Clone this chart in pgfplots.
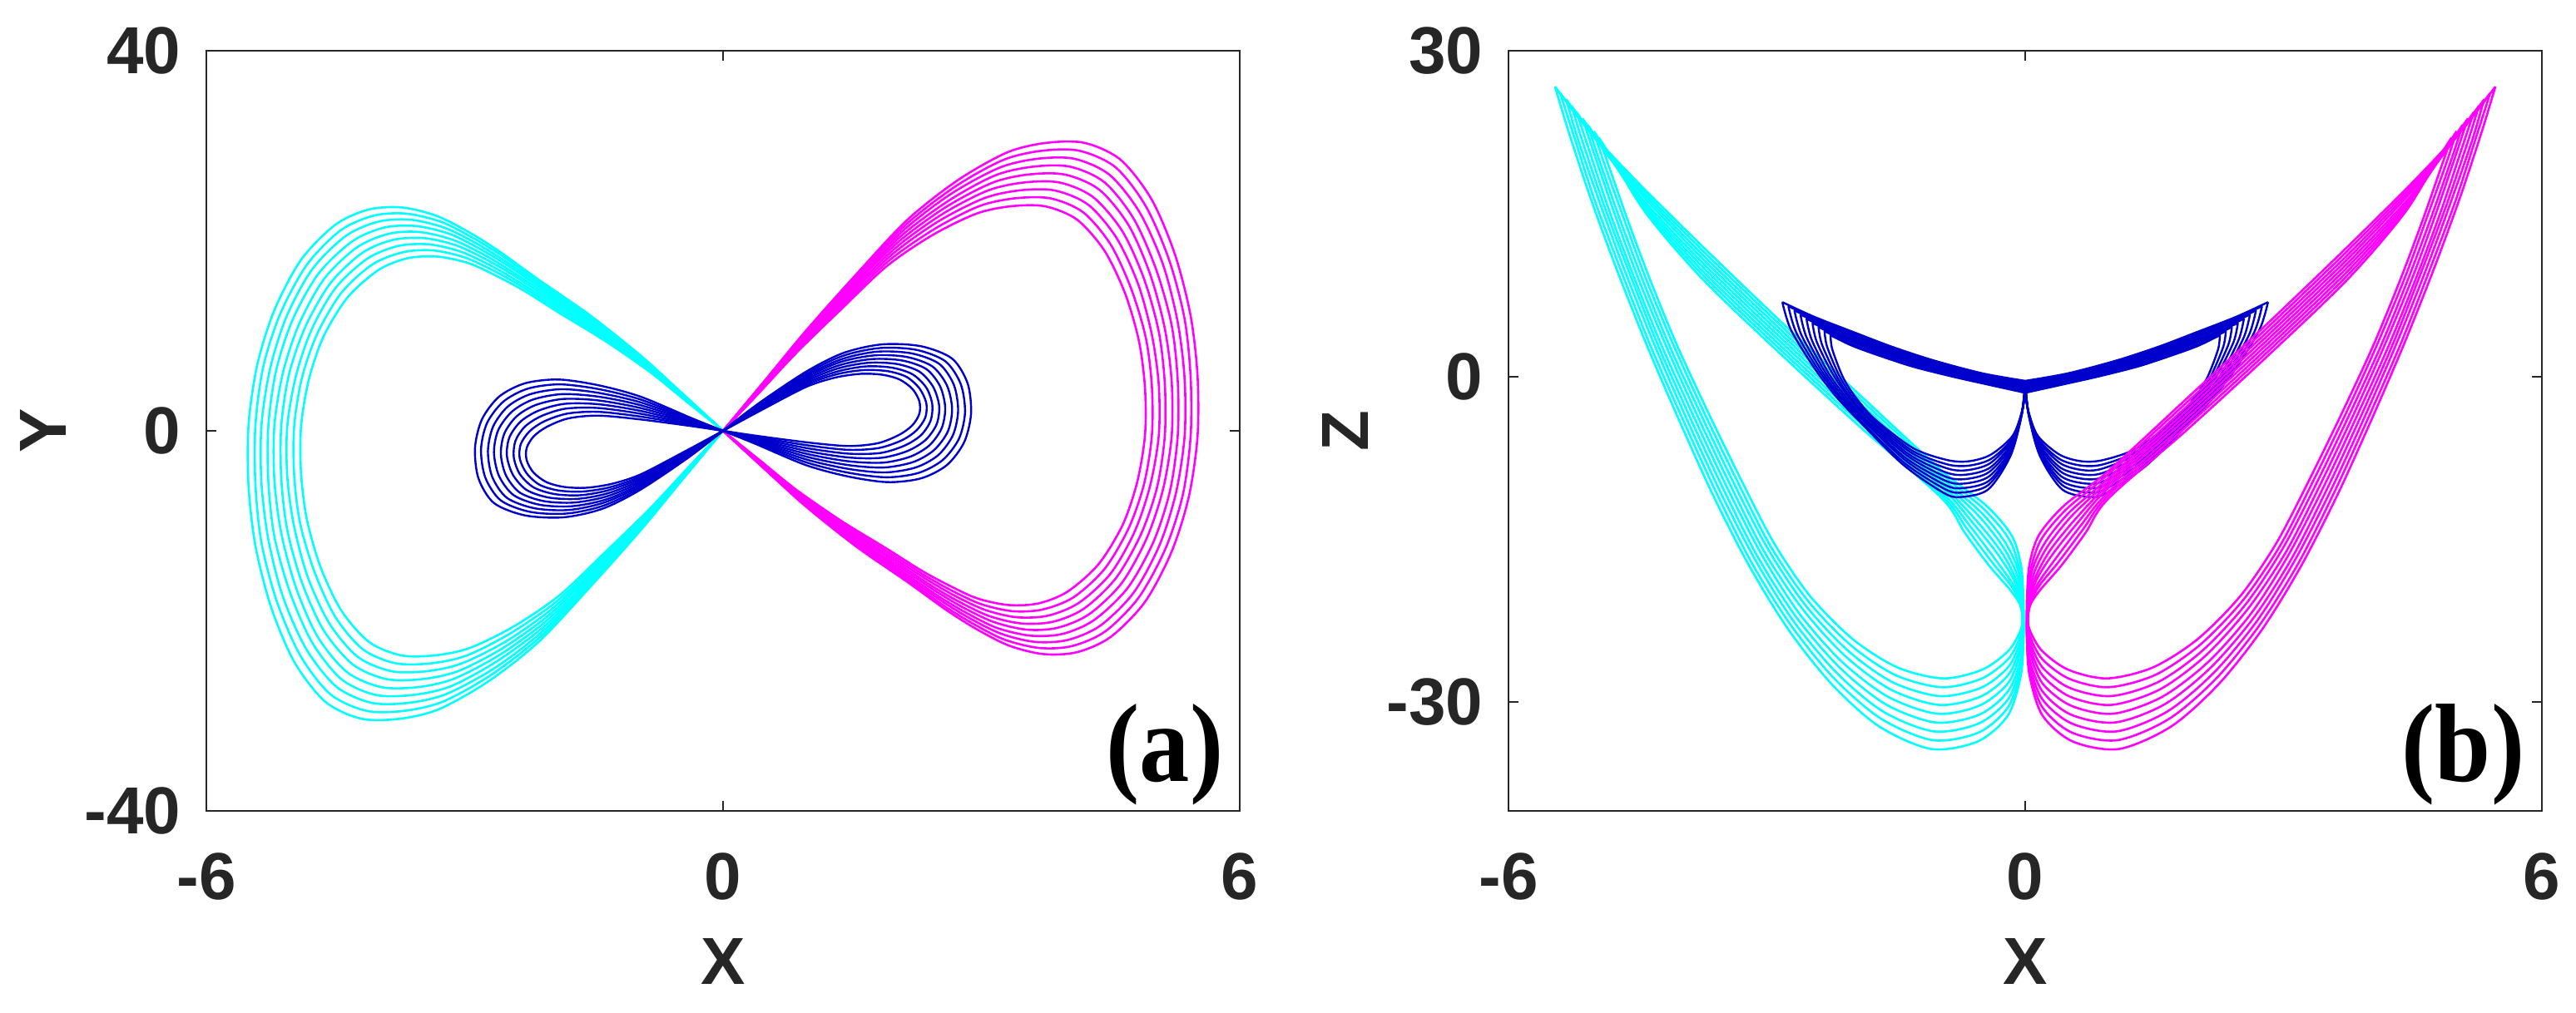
\documentclass[border=0pt]{standalone}
\usepackage{graphicx}
\usepackage{fontspec}
\setmainfont{Liberation Sans}
\newfontfamily\labfont{Liberation Serif}
\usepackage{pgfplots}
\pgfplotsset{compat=1.18}
\definecolor{cyc}{RGB}{0,255,255}
\definecolor{mgc}{RGB}{255,0,255}
\definecolor{blc}{RGB}{0,0,205}
\definecolor{axc}{RGB}{38,38,38}
\pgfplotsset{
 cy/.style={draw=cyc, line width=0.65pt, smooth, mark=none},
 mg/.style={draw=mgc, line width=0.65pt, smooth, mark=none},
 bl/.style={draw=blc, line width=0.6pt, smooth, mark=none},
 myax/.style={
  scale only axis, width=310.5pt, height=228.5pt, anchor=south west,
  xmin=-6, xmax=6, xtick={-6,0,6}, xticklabels={-6,0,6},
  axis line style={draw=axc, line width=0.5pt},
  every tick/.style={draw=axc, line width=0.5pt},
  major tick length=3pt, tick align=inside,
  ticklabel style={font=\fontsize{20}{20}\selectfont\bfseries, text=axc},
  xticklabel style={inner sep=0pt, yshift=-12.5pt},
  yticklabel style={inner sep=0pt, xshift=-7.5pt},
  xlabel={X},
  xlabel style={at={(axis description cs:0.5,-0.1674)}, anchor=north, inner sep=0pt, font=\fontsize{20}{20}\selectfont\bfseries, text=axc},
  ylabel style={at={(axis description cs:-0.158,0.5)}, anchor=center, inner sep=0pt, font=\fontsize{20}{20}\selectfont\bfseries, text=axc},
  clip=true,
 }
}
\begin{document}
\begin{tikzpicture}
\useasboundingbox (0,0) rectangle (774pt,304.5pt);
% ================= panel (a) =================
\begin{axis}[myax, at={(62pt,60.75pt)}, ymin=-40, ymax=40, ytick={-40,0,40}, yticklabels={-40,0,40}, ylabel={Y}]
% ---- cyan lobe ----
\addplot[cy] coordinates {(0,0) (-0.48,4.0) (-0.96,7.95) (-1.55,12.2) (-2.14,15.9) (-2.60,18.9) (-2.95,20.9) (-3.32,22.6) (-3.72,23.5) (-4.11,23.3) (-4.50,21.7) (-4.90,18.0) (-5.21,12.7) (-5.41,6.9) (-5.51,0.6) (-5.51,-5.8) (-5.43,-12.1) (-5.25,-18.5) (-4.98,-24.3) (-4.62,-28.5) (-4.20,-30.3) (-3.75,-30.3) (-3.30,-29.3) (-2.73,-26.4) (-2.14,-22.2) (-1.55,-16.5) (-0.96,-10.5) (-0.45,-4.9) (0,0)};
\addplot[cy] coordinates {(0,0) (-0.47,3.89) (-0.95,7.73) (-1.53,11.86) (-2.11,15.46) (-2.56,18.38) (-2.91,20.33) (-3.27,21.98) (-3.67,22.85) (-4.05,22.66) (-4.44,21.10) (-4.83,17.51) (-5.14,12.35) (-5.34,6.71) (-5.43,0.58) (-5.43,-5.64) (-5.36,-11.77) (-5.18,-17.99) (-4.91,-23.63) (-4.56,-27.72) (-4.14,-29.47) (-3.70,-29.47) (-3.25,-28.49) (-2.69,-25.67) (-2.11,-21.59) (-1.53,-16.05) (-0.95,-10.21) (-0.44,-4.77) (0,0)};
\addplot[cy] coordinates {(0,0) (-0.47,3.78) (-0.93,7.51) (-1.51,11.53) (-2.08,15.03) (-2.53,17.86) (-2.87,19.75) (-3.23,21.36) (-3.62,22.21) (-4.00,22.02) (-4.38,20.51) (-4.77,17.01) (-5.07,12.00) (-5.26,6.52) (-5.36,0.57) (-5.36,-5.48) (-5.28,-11.43) (-5.11,-17.48) (-4.84,-22.96) (-4.49,-26.93) (-4.08,-28.63) (-3.65,-28.63) (-3.21,-27.69) (-2.65,-24.95) (-2.08,-20.98) (-1.51,-15.59) (-0.93,-9.92) (-0.44,-4.63) (0,0)};
\addplot[cy] coordinates {(0,0) (-0.46,3.67) (-0.92,7.29) (-1.49,11.19) (-2.05,14.59) (-2.49,17.34) (-2.83,19.18) (-3.18,20.74) (-3.57,21.56) (-3.94,21.38) (-4.31,19.91) (-4.70,16.52) (-5.00,11.65) (-5.19,6.33) (-5.28,0.55) (-5.28,-5.32) (-5.21,-11.10) (-5.03,-16.97) (-4.77,-22.30) (-4.43,-26.15) (-4.03,-27.80) (-3.60,-27.80) (-3.16,-26.88) (-2.62,-24.22) (-2.05,-20.37) (-1.49,-15.14) (-0.92,-9.63) (-0.43,-4.50) (0,0)};
\addplot[cy] coordinates {(0,0) (-0.45,3.56) (-0.91,7.08) (-1.46,10.86) (-2.02,14.15) (-2.46,16.82) (-2.79,18.60) (-3.14,20.11) (-3.52,20.92) (-3.88,20.74) (-4.25,19.31) (-4.63,16.02) (-4.92,11.30) (-5.11,6.14) (-5.21,0.53) (-5.21,-5.16) (-5.13,-10.77) (-4.96,-16.47) (-4.71,-21.63) (-4.37,-25.37) (-3.97,-26.97) (-3.54,-26.97) (-3.12,-26.08) (-2.58,-23.50) (-2.02,-19.76) (-1.46,-14.69) (-0.91,-9.35) (-0.43,-4.36) (0,0)};
\addplot[cy] coordinates {(0,0) (-0.45,3.45) (-0.89,6.86) (-1.44,10.52) (-1.99,13.71) (-2.42,16.30) (-2.75,18.03) (-3.09,19.49) (-3.46,20.27) (-3.83,20.10) (-4.19,18.72) (-4.56,15.53) (-4.85,10.95) (-5.04,5.95) (-5.13,0.52) (-5.13,-5.00) (-5.06,-10.44) (-4.89,-15.96) (-4.64,-20.96) (-4.30,-24.58) (-3.91,-26.13) (-3.49,-26.13) (-3.07,-25.27) (-2.54,-22.77) (-1.99,-19.15) (-1.44,-14.23) (-0.89,-9.06) (-0.42,-4.23) (0,0)};
\addplot[cy] coordinates {(0,0) (-0.44,3.34) (-0.88,6.64) (-1.42,10.19) (-1.96,13.28) (-2.39,15.78) (-2.71,17.45) (-3.05,18.87) (-3.41,19.62) (-3.77,19.46) (-4.13,18.12) (-4.50,15.03) (-4.78,10.60) (-4.96,5.76) (-5.06,0.50) (-5.06,-4.84) (-4.98,-10.10) (-4.82,-15.45) (-4.57,-20.29) (-4.24,-23.80) (-3.85,-25.30) (-3.44,-25.30) (-3.03,-24.47) (-2.50,-22.04) (-1.96,-18.54) (-1.42,-13.78) (-0.88,-8.77) (-0.41,-4.09) (0,0)};
\addplot[cy] coordinates {(0,0) (-0.43,3.23) (-0.87,6.42) (-1.40,9.85) (-1.93,12.84) (-2.35,15.26) (-2.67,16.88) (-3.00,18.25) (-3.36,18.98) (-3.71,18.81) (-4.07,17.52) (-4.43,14.54) (-4.71,10.26) (-4.89,5.57) (-4.98,0.48) (-4.98,-4.68) (-4.91,-9.77) (-4.74,-14.94) (-4.50,-19.62) (-4.18,-23.01) (-3.80,-24.47) (-3.39,-24.47) (-2.98,-23.66) (-2.47,-21.32) (-1.93,-17.93) (-1.40,-13.32) (-0.87,-8.48) (-0.41,-3.96) (0,0)};
\addplot[cy] coordinates {(0,0) (-0.43,3.12) (-0.85,6.20) (-1.38,9.52) (-1.90,12.40) (-2.31,14.74) (-2.63,16.30) (-2.95,17.63) (-3.31,18.33) (-3.66,18.17) (-4.00,16.93) (-4.36,14.04) (-4.64,9.91) (-4.81,5.38) (-4.90,0.47) (-4.90,-4.52) (-4.83,-9.44) (-4.67,-14.43) (-4.43,-18.95) (-4.11,-22.23) (-3.74,-23.63) (-3.34,-23.63) (-2.94,-22.85) (-2.43,-20.59) (-1.90,-17.32) (-1.38,-12.87) (-0.85,-8.19) (-0.40,-3.82) (0,0)};
% ---- magenta lobe ----
\addplot[mg] coordinates {(0,0) (0.48,-4.0) (0.96,-7.95) (1.55,-12.2) (2.14,-15.9) (2.60,-18.9) (2.95,-20.9) (3.32,-22.6) (3.72,-23.5) (4.11,-23.3) (4.50,-21.7) (4.90,-18.0) (5.21,-12.7) (5.41,-6.9) (5.51,-0.6) (5.51,5.8) (5.43,12.1) (5.25,18.5) (4.98,24.3) (4.62,28.5) (4.20,30.3) (3.75,30.3) (3.30,29.3) (2.73,26.4) (2.14,22.2) (1.55,16.5) (0.96,10.5) (0.45,4.9) (0,0)};
\addplot[mg] coordinates {(0,0) (0.47,-3.89) (0.95,-7.73) (1.53,-11.86) (2.11,-15.46) (2.56,-18.38) (2.91,-20.33) (3.27,-21.98) (3.67,-22.85) (4.05,-22.66) (4.44,-21.10) (4.83,-17.51) (5.14,-12.35) (5.34,-6.71) (5.43,-0.58) (5.43,5.64) (5.36,11.77) (5.18,17.99) (4.91,23.63) (4.56,27.72) (4.14,29.47) (3.70,29.47) (3.25,28.49) (2.69,25.67) (2.11,21.59) (1.53,16.05) (0.95,10.21) (0.44,4.77) (0,0)};
\addplot[mg] coordinates {(0,0) (0.47,-3.78) (0.93,-7.51) (1.51,-11.53) (2.08,-15.03) (2.53,-17.86) (2.87,-19.75) (3.23,-21.36) (3.62,-22.21) (4.00,-22.02) (4.38,-20.51) (4.77,-17.01) (5.07,-12.00) (5.26,-6.52) (5.36,-0.57) (5.36,5.48) (5.28,11.43) (5.11,17.48) (4.84,22.96) (4.49,26.93) (4.08,28.63) (3.65,28.63) (3.21,27.69) (2.65,24.95) (2.08,20.98) (1.51,15.59) (0.93,9.92) (0.44,4.63) (0,0)};
\addplot[mg] coordinates {(0,0) (0.46,-3.67) (0.92,-7.29) (1.49,-11.19) (2.05,-14.59) (2.49,-17.34) (2.83,-19.18) (3.18,-20.74) (3.57,-21.56) (3.94,-21.38) (4.31,-19.91) (4.70,-16.52) (5.00,-11.65) (5.19,-6.33) (5.28,-0.55) (5.28,5.32) (5.21,11.10) (5.03,16.97) (4.77,22.30) (4.43,26.15) (4.03,27.80) (3.60,27.80) (3.16,26.88) (2.62,24.22) (2.05,20.37) (1.49,15.14) (0.92,9.63) (0.43,4.50) (0,0)};
\addplot[mg] coordinates {(0,0) (0.45,-3.56) (0.91,-7.08) (1.46,-10.86) (2.02,-14.15) (2.46,-16.82) (2.79,-18.60) (3.14,-20.11) (3.52,-20.92) (3.88,-20.74) (4.25,-19.31) (4.63,-16.02) (4.92,-11.30) (5.11,-6.14) (5.21,-0.53) (5.21,5.16) (5.13,10.77) (4.96,16.47) (4.71,21.63) (4.37,25.37) (3.97,26.97) (3.54,26.97) (3.12,26.08) (2.58,23.50) (2.02,19.76) (1.46,14.69) (0.91,9.35) (0.43,4.36) (0,0)};
\addplot[mg] coordinates {(0,0) (0.45,-3.45) (0.89,-6.86) (1.44,-10.52) (1.99,-13.71) (2.42,-16.30) (2.75,-18.03) (3.09,-19.49) (3.46,-20.27) (3.83,-20.10) (4.19,-18.72) (4.56,-15.53) (4.85,-10.95) (5.04,-5.95) (5.13,-0.52) (5.13,5.00) (5.06,10.44) (4.89,15.96) (4.64,20.96) (4.30,24.58) (3.91,26.13) (3.49,26.13) (3.07,25.27) (2.54,22.77) (1.99,19.15) (1.44,14.23) (0.89,9.06) (0.42,4.23) (0,0)};
\addplot[mg] coordinates {(0,0) (0.44,-3.34) (0.88,-6.64) (1.42,-10.19) (1.96,-13.28) (2.39,-15.78) (2.71,-17.45) (3.05,-18.87) (3.41,-19.62) (3.77,-19.46) (4.13,-18.12) (4.50,-15.03) (4.78,-10.60) (4.96,-5.76) (5.06,-0.50) (5.06,4.84) (4.98,10.10) (4.82,15.45) (4.57,20.29) (4.24,23.80) (3.85,25.30) (3.44,25.30) (3.03,24.47) (2.50,22.04) (1.96,18.54) (1.42,13.78) (0.88,8.77) (0.41,4.09) (0,0)};
\addplot[mg] coordinates {(0,0) (0.43,-3.23) (0.87,-6.42) (1.40,-9.85) (1.93,-12.84) (2.35,-15.26) (2.67,-16.88) (3.00,-18.25) (3.36,-18.98) (3.71,-18.81) (4.07,-17.52) (4.43,-14.54) (4.71,-10.26) (4.89,-5.57) (4.98,-0.48) (4.98,4.68) (4.91,9.77) (4.74,14.94) (4.50,19.62) (4.18,23.01) (3.80,24.47) (3.39,24.47) (2.98,23.66) (2.47,21.32) (1.93,17.93) (1.40,13.32) (0.87,8.48) (0.41,3.96) (0,0)};
\addplot[mg] coordinates {(0,0) (0.43,-3.12) (0.85,-6.20) (1.38,-9.52) (1.90,-12.40) (2.31,-14.74) (2.63,-16.30) (2.95,-17.63) (3.31,-18.33) (3.66,-18.17) (4.00,-16.93) (4.36,-14.04) (4.64,-9.91) (4.81,-5.38) (4.90,-0.47) (4.90,4.52) (4.83,9.44) (4.67,14.43) (4.43,18.95) (4.11,22.23) (3.74,23.63) (3.34,23.63) (2.94,22.85) (2.43,20.59) (1.90,17.32) (1.38,12.87) (0.85,8.19) (0.40,3.82) (0,0)};
% ---- blue left lobe ----
\addplot[bl] coordinates {(0,0) (-0.37,1.35) (-0.96,3.6) (-1.45,4.8) (-1.91,5.4) (-2.30,5.0) (-2.60,3.6) (-2.80,1.2) (-2.88,-1.8) (-2.84,-5.0) (-2.66,-7.6) (-2.30,-8.9) (-1.85,-9.1) (-1.40,-8.2) (-0.96,-6.2) (-0.40,-2.8) (0,0)};
\addplot[bl] coordinates {(0,0) (-0.37,1.24) (-0.96,3.3) (-1.45,4.4) (-1.90,4.89) (-2.27,4.43) (-2.55,3.08) (-2.74,0.83) (-2.81,-1.96) (-2.76,-4.93) (-2.58,-7.33) (-2.24,-8.53) (-1.82,-8.71) (-1.39,-7.88) (-0.96,-6.0) (-0.41,-2.73) (0,0)};
\addplot[bl] coordinates {(0,0) (-0.37,1.14) (-0.96,3.0) (-1.45,4.0) (-1.88,4.38) (-2.24,3.85) (-2.50,2.55) (-2.67,0.45) (-2.73,-2.13) (-2.68,-4.85) (-2.51,-7.05) (-2.19,-8.15) (-1.79,-8.33) (-1.38,-7.55) (-0.96,-5.8) (-0.41,-2.65) (0,0)};
\addplot[bl] coordinates {(0,0) (-0.37,1.03) (-0.96,2.7) (-1.45,3.6) (-1.87,3.86) (-2.21,3.28) (-2.45,2.03) (-2.61,0.08) (-2.66,-2.29) (-2.60,-4.78) (-2.43,-6.78) (-2.13,-7.78) (-1.76,-7.94) (-1.36,-7.23) (-0.96,-5.6) (-0.42,-2.58) (0,0)};
\addplot[bl] coordinates {(0,0) (-0.37,0.93) (-0.96,2.4) (-1.45,3.2) (-1.86,3.35) (-2.18,2.70) (-2.40,1.5) (-2.54,-0.3) (-2.58,-2.45) (-2.52,-4.7) (-2.36,-6.5) (-2.08,-7.4) (-1.73,-7.55) (-1.35,-6.9) (-0.96,-5.4) (-0.43,-2.5) (0,0)};
\addplot[bl] coordinates {(0,0) (-0.37,0.82) (-0.96,2.1) (-1.45,2.8) (-1.84,2.84) (-2.14,2.13) (-2.35,0.98) (-2.48,-0.68) (-2.51,-2.61) (-2.44,-4.63) (-2.28,-6.23) (-2.02,-7.03) (-1.69,-7.16) (-1.34,-6.58) (-0.96,-5.2) (-0.43,-2.43) (0,0)};
\addplot[bl] coordinates {(0,0) (-0.37,0.71) (-0.96,1.8) (-1.45,2.4) (-1.83,2.33) (-2.11,1.55) (-2.30,0.45) (-2.41,-1.05) (-2.43,-2.78) (-2.36,-4.55) (-2.20,-5.95) (-1.96,-6.65) (-1.66,-6.78) (-1.33,-6.25) (-0.96,-5.0) (-0.44,-2.35) (0,0)};
\addplot[bl] coordinates {(0,0) (-0.37,0.61) (-0.96,1.5) (-1.45,2.0) (-1.81,1.81) (-2.08,0.98) (-2.25,-0.08) (-2.35,-1.43) (-2.36,-2.94) (-2.28,-4.48) (-2.13,-5.68) (-1.91,-6.28) (-1.63,-6.39) (-1.31,-5.93) (-0.96,-4.8) (-0.44,-2.28) (0,0)};
\addplot[bl] coordinates {(0,0) (-0.37,0.50) (-0.96,1.2) (-1.45,1.6) (-1.80,1.3) (-2.05,0.4) (-2.20,-0.6) (-2.28,-1.8) (-2.28,-3.1) (-2.20,-4.4) (-2.05,-5.4) (-1.85,-5.9) (-1.60,-6.0) (-1.30,-5.6) (-0.96,-4.6) (-0.45,-2.2) (0,0)};
% ---- blue right lobe ----
\addplot[bl] coordinates {(0,0) (0.37,-1.35) (0.96,-3.6) (1.45,-4.8) (1.91,-5.4) (2.30,-5.0) (2.60,-3.6) (2.80,-1.2) (2.88,1.8) (2.84,5.0) (2.66,7.6) (2.30,8.9) (1.85,9.1) (1.40,8.2) (0.96,6.2) (0.40,2.8) (0,0)};
\addplot[bl] coordinates {(0,0) (0.37,-1.24) (0.96,-3.3) (1.45,-4.4) (1.90,-4.89) (2.27,-4.43) (2.55,-3.08) (2.74,-0.83) (2.81,1.96) (2.76,4.93) (2.58,7.33) (2.24,8.53) (1.82,8.71) (1.39,7.88) (0.96,6.0) (0.41,2.73) (0,0)};
\addplot[bl] coordinates {(0,0) (0.37,-1.14) (0.96,-3.0) (1.45,-4.0) (1.88,-4.38) (2.24,-3.85) (2.50,-2.55) (2.67,-0.45) (2.73,2.13) (2.68,4.85) (2.51,7.05) (2.19,8.15) (1.79,8.33) (1.38,7.55) (0.96,5.8) (0.41,2.65) (0,0)};
\addplot[bl] coordinates {(0,0) (0.37,-1.03) (0.96,-2.7) (1.45,-3.6) (1.87,-3.86) (2.21,-3.28) (2.45,-2.03) (2.61,-0.08) (2.66,2.29) (2.60,4.78) (2.43,6.78) (2.13,7.78) (1.76,7.94) (1.36,7.23) (0.96,5.6) (0.42,2.58) (0,0)};
\addplot[bl] coordinates {(0,0) (0.37,-0.93) (0.96,-2.4) (1.45,-3.2) (1.86,-3.35) (2.18,-2.70) (2.40,-1.5) (2.54,0.3) (2.58,2.45) (2.52,4.7) (2.36,6.5) (2.08,7.4) (1.73,7.55) (1.35,6.9) (0.96,5.4) (0.43,2.5) (0,0)};
\addplot[bl] coordinates {(0,0) (0.37,-0.82) (0.96,-2.1) (1.45,-2.8) (1.84,-2.84) (2.14,-2.13) (2.35,-0.98) (2.48,0.68) (2.51,2.61) (2.44,4.63) (2.28,6.23) (2.02,7.03) (1.69,7.16) (1.34,6.58) (0.96,5.2) (0.43,2.43) (0,0)};
\addplot[bl] coordinates {(0,0) (0.37,-0.71) (0.96,-1.8) (1.45,-2.4) (1.83,-2.33) (2.11,-1.55) (2.30,-0.45) (2.41,1.05) (2.43,2.78) (2.36,4.55) (2.20,5.95) (1.96,6.65) (1.66,6.78) (1.33,6.25) (0.96,5.0) (0.44,2.35) (0,0)};
\addplot[bl] coordinates {(0,0) (0.37,-0.61) (0.96,-1.5) (1.45,-2.0) (1.81,-1.81) (2.08,-0.98) (2.25,0.08) (2.35,1.43) (2.36,2.94) (2.28,4.48) (2.13,5.68) (1.91,6.28) (1.63,6.39) (1.31,5.93) (0.96,4.8) (0.44,2.28) (0,0)};
\addplot[bl] coordinates {(0,0) (0.37,-0.50) (0.96,-1.2) (1.45,-1.6) (1.80,-1.3) (2.05,-0.4) (2.20,0.6) (2.28,1.8) (2.28,3.1) (2.20,4.4) (2.05,5.4) (1.85,5.9) (1.60,6.0) (1.30,5.6) (0.96,4.6) (0.45,2.2) (0,0)};
\node[anchor=south east, inner sep=0pt, xshift=-4.75pt, yshift=1.5pt] at (rel axis cs:1,0) {\scalebox{0.9}[1]{\labfont\bfseries\fontsize{33.5}{33.5}\selectfont (a)}};
\end{axis}
% ================= panel (b) =================
\begin{axis}[myax, at={(453.25pt,60.75pt)}, ymin=-40, ymax=30, ytick={-30,0,30}, yticklabels={-30,0,30}, ylabel={Z}]
% ---- cyan ----
\addplot[cy] coordinates {(-5.46,26.7) (-5.30,22.5) (-5.05,16.5) (-4.75,10.0) (-4.40,3.0) (-4.02,-4.0) (-3.62,-11.0) (-3.20,-17.5) (-2.75,-23.3) (-2.25,-28.3) (-1.70,-32.2) (-1.09,-34.3) (-0.55,-33.6) (-0.20,-31.2) (-0.05,-27.5) (-0.02,-24.0) (-0.02,-20.5) (-0.05,-17.3) (-0.16,-14.6) (-0.45,-11.9) (-0.95,-8.8) (-1.88,-2.0) (-2.83,5.0) (-3.75,12.0) (-4.55,18.3) (-5.10,23.0) (-5.46,26.7)};
\addplot[cy] coordinates {(-5.40,26.11) (-5.24,22.13) (-5.00,16.25) (-4.70,9.88) (-4.36,3.0) (-3.98,-3.88) (-3.58,-10.81) (-3.17,-17.23) (-2.72,-22.91) (-2.22,-27.79) (-1.67,-31.53) (-1.07,-33.49) (-0.54,-32.78) (-0.20,-30.46) (-0.05,-27.0) (-0.02,-23.79) (-0.03,-20.56) (-0.07,-17.59) (-0.19,-14.95) (-0.48,-12.21) (-0.95,-9.1) (-1.88,-2.36) (-2.83,4.63) (-3.75,11.63) (-4.53,17.89) (-5.06,22.56) (-5.40,26.11)};
\addplot[cy] coordinates {(-5.33,25.53) (-5.19,21.75) (-4.94,16.0) (-4.65,9.75) (-4.31,3.0) (-3.94,-3.75) (-3.54,-10.63) (-3.13,-16.95) (-2.69,-22.53) (-2.19,-27.28) (-1.65,-30.85) (-1.06,-32.68) (-0.54,-31.95) (-0.20,-29.73) (-0.05,-26.5) (-0.02,-23.58) (-0.03,-20.63) (-0.08,-17.88) (-0.23,-15.3) (-0.51,-12.53) (-0.96,-9.4) (-1.88,-2.73) (-2.83,4.25) (-3.75,11.25) (-4.51,17.48) (-5.01,22.13) (-5.33,25.53)};
\addplot[cy] coordinates {(-5.27,24.94) (-5.13,21.38) (-4.89,15.75) (-4.60,9.63) (-4.27,3.0) (-3.90,-3.63) (-3.50,-10.44) (-3.10,-16.68) (-2.66,-22.14) (-2.16,-26.76) (-1.62,-30.18) (-1.04,-31.86) (-0.53,-31.13) (-0.20,-28.99) (-0.05,-26.0) (-0.02,-23.36) (-0.04,-20.69) (-0.10,-18.16) (-0.26,-15.65) (-0.54,-12.84) (-0.96,-9.7) (-1.88,-3.09) (-2.83,3.88) (-3.75,10.88) (-4.49,17.06) (-4.97,21.69) (-5.27,24.94)};
\addplot[cy] coordinates {(-5.21,24.35) (-5.07,21.0) (-4.84,15.5) (-4.56,9.5) (-4.23,3.0) (-3.86,-3.5) (-3.46,-10.25) (-3.06,-16.4) (-2.63,-21.75) (-2.13,-26.25) (-1.59,-29.5) (-1.02,-31.05) (-0.53,-30.3) (-0.20,-28.25) (-0.06,-25.5) (-0.03,-23.15) (-0.04,-20.75) (-0.12,-18.45) (-0.29,-16.0) (-0.58,-13.15) (-0.96,-10.0) (-1.88,-3.45) (-2.83,3.5) (-3.75,10.5) (-4.48,16.65) (-4.93,21.25) (-5.21,24.35)};
\addplot[cy] coordinates {(-5.14,23.76) (-5.01,20.63) (-4.78,15.25) (-4.51,9.38) (-4.18,3.0) (-3.82,-3.38) (-3.42,-10.06) (-3.03,-16.13) (-2.59,-21.36) (-2.09,-25.74) (-1.56,-28.83) (-1.00,-30.24) (-0.52,-29.48) (-0.20,-27.51) (-0.06,-25.0) (-0.03,-22.94) (-0.05,-20.81) (-0.13,-18.74) (-0.32,-16.35) (-0.61,-13.46) (-0.96,-10.3) (-1.88,-3.81) (-2.83,3.13) (-3.75,10.13) (-4.46,16.24) (-4.88,20.81) (-5.14,23.76)};
\addplot[cy] coordinates {(-5.08,23.18) (-4.96,20.25) (-4.73,15.0) (-4.46,9.25) (-4.14,3.0) (-3.78,-3.25) (-3.38,-9.88) (-2.99,-15.85) (-2.56,-20.98) (-2.06,-25.23) (-1.54,-28.15) (-0.99,-29.43) (-0.51,-28.65) (-0.20,-26.78) (-0.06,-24.5) (-0.03,-22.73) (-0.05,-20.88) (-0.15,-19.03) (-0.36,-16.7) (-0.64,-13.78) (-0.97,-10.6) (-1.88,-4.18) (-2.83,2.75) (-3.75,9.75) (-4.44,15.83) (-4.84,20.38) (-5.08,23.18)};
\addplot[cy] coordinates {(-5.01,22.59) (-4.90,19.88) (-4.67,14.75) (-4.41,9.13) (-4.09,3.0) (-3.74,-3.13) (-3.34,-9.69) (-2.96,-15.58) (-2.53,-20.59) (-2.03,-24.71) (-1.51,-27.48) (-0.97,-28.61) (-0.51,-27.83) (-0.20,-26.04) (-0.06,-24.0) (-0.03,-22.51) (-0.06,-20.94) (-0.16,-19.31) (-0.39,-17.05) (-0.67,-14.09) (-0.97,-10.9) (-1.88,-4.54) (-2.83,2.38) (-3.75,9.38) (-4.42,15.41) (-4.79,19.94) (-5.01,22.59)};
\addplot[cy] coordinates {(-4.95,22.0) (-4.84,19.5) (-4.62,14.5) (-4.36,9.0) (-4.05,3.0) (-3.70,-3.0) (-3.30,-9.5) (-2.92,-15.3) (-2.50,-20.2) (-2.00,-24.2) (-1.48,-26.8) (-0.95,-27.8) (-0.50,-27.0) (-0.20,-25.3) (-0.06,-23.5) (-0.03,-22.3) (-0.06,-21.0) (-0.18,-19.6) (-0.42,-17.4) (-0.70,-14.4) (-0.97,-11.2) (-1.88,-4.9) (-2.83,2.0) (-3.75,9.0) (-4.40,15.0) (-4.75,19.5) (-4.95,22.0)};
% ---- blue left (tip -> centre, centre -> tip) ----
\addplot[bl] coordinates {(-2.82,6.85) (-2.72,4.3) (-2.45,0.8) (-2.20,-1.8) (-1.94,-4.0) (-1.42,-8.1) (-0.95,-10.7) (-0.75,-11.1) (-0.43,-10.4) (-0.17,-7.3) (-0.04,-3.5) (0,-0.4)};
\addplot[bl] coordinates {(0,-0.4) (-0.50,0.3) (-1.07,1.5) (-1.55,2.75) (-1.98,4.05) (-2.45,5.5) (-2.82,6.85)};
\addplot[bl] coordinates {(-2.75,6.47) (-2.66,4.08) (-2.41,0.7) (-2.17,-1.8) (-1.92,-3.99) (-1.41,-7.91) (-0.94,-10.33) (-0.74,-10.69) (-0.43,-10.0) (-0.17,-7.08) (-0.04,-3.48) (0,-0.54)};
\addplot[bl] coordinates {(0,-0.54) (-0.49,0.16) (-1.04,1.31) (-1.52,2.52) (-1.94,3.77) (-2.39,5.16) (-2.75,6.47)};
\addplot[bl] coordinates {(-2.68,6.09) (-2.60,3.85) (-2.37,0.6) (-2.15,-1.8) (-1.89,-3.98) (-1.39,-7.73) (-0.94,-9.95) (-0.73,-10.28) (-0.42,-9.6) (-0.17,-6.85) (-0.04,-3.45) (0,-0.68)};
\addplot[bl] coordinates {(0,-0.68) (-0.48,0.03) (-1.02,1.13) (-1.49,2.29) (-1.90,3.49) (-2.34,4.83) (-2.68,6.09)};
\addplot[bl] coordinates {(-2.61,5.71) (-2.54,3.63) (-2.33,0.5) (-2.12,-1.8) (-1.87,-3.96) (-1.38,-7.54) (-0.93,-9.58) (-0.71,-9.86) (-0.42,-9.2) (-0.16,-6.63) (-0.04,-3.43) (0,-0.81)};
\addplot[bl] coordinates {(0,-0.81) (-0.46,-0.11) (-0.99,0.94) (-1.46,2.06) (-1.86,3.21) (-2.28,4.49) (-2.61,5.71)};
\addplot[bl] coordinates {(-2.54,5.33) (-2.48,3.4) (-2.29,0.4) (-2.09,-1.8) (-1.85,-3.95) (-1.36,-7.35) (-0.93,-9.2) (-0.70,-9.45) (-0.42,-8.8) (-0.16,-6.4) (-0.04,-3.4) (0,-0.95)};
\addplot[bl] coordinates {(0,-0.95) (-0.45,-0.25) (-0.96,0.75) (-1.43,1.83) (-1.82,2.93) (-2.23,4.15) (-2.54,5.33)};
\addplot[bl] coordinates {(-2.47,4.94) (-2.42,3.18) (-2.24,0.3) (-2.06,-1.8) (-1.82,-3.94) (-1.35,-7.16) (-0.92,-8.83) (-0.69,-9.04) (-0.41,-8.4) (-0.16,-6.18) (-0.04,-3.38) (0,-1.09)};
\addplot[bl] coordinates {(0,-1.09) (-0.44,-0.39) (-0.93,0.56) (-1.39,1.59) (-1.77,2.64) (-2.17,3.81) (-2.47,4.94)};
\addplot[bl] coordinates {(-2.40,4.56) (-2.36,2.95) (-2.20,0.2) (-2.04,-1.8) (-1.80,-3.93) (-1.33,-6.98) (-0.91,-8.45) (-0.68,-8.63) (-0.41,-8.0) (-0.16,-5.95) (-0.04,-3.35) (0,-1.23)};
\addplot[bl] coordinates {(0,-1.23) (-0.43,-0.53) (-0.91,0.38) (-1.36,1.36) (-1.73,2.36) (-2.11,3.48) (-2.40,4.56)};
\addplot[bl] coordinates {(-2.33,4.18) (-2.30,2.73) (-2.16,0.1) (-2.01,-1.8) (-1.77,-3.91) (-1.32,-6.79) (-0.91,-8.08) (-0.66,-8.21) (-0.40,-7.6) (-0.15,-5.73) (-0.04,-3.33) (0,-1.36)};
\addplot[bl] coordinates {(0,-1.36) (-0.41,-0.66) (-0.88,0.19) (-1.33,1.13) (-1.69,2.08) (-2.06,3.14) (-2.33,4.18)};
\addplot[bl] coordinates {(-2.26,3.8) (-2.24,2.5) (-2.12,0.0) (-1.98,-1.8) (-1.75,-3.9) (-1.30,-6.6) (-0.90,-7.7) (-0.65,-7.8) (-0.40,-7.2) (-0.15,-5.5) (-0.04,-3.3) (0,-1.5)};
\addplot[bl] coordinates {(0,-1.5) (-0.40,-0.8) (-0.85,0.0) (-1.30,0.9) (-1.65,1.8) (-2.00,2.8) (-2.26,3.8)};
% ---- blue right ----
\addplot[bl] coordinates {(2.82,6.85) (2.72,4.3) (2.45,0.8) (2.20,-1.8) (1.94,-4.0) (1.42,-8.1) (0.95,-10.7) (0.75,-11.1) (0.43,-10.4) (0.17,-7.3) (0.04,-3.5) (0,-0.4)};
\addplot[bl] coordinates {(0,-0.4) (0.50,0.3) (1.07,1.5) (1.55,2.75) (1.98,4.05) (2.45,5.5) (2.82,6.85)};
\addplot[bl] coordinates {(2.75,6.47) (2.66,4.08) (2.41,0.7) (2.17,-1.8) (1.92,-3.99) (1.41,-7.91) (0.94,-10.33) (0.74,-10.69) (0.43,-10.0) (0.17,-7.08) (0.04,-3.48) (0,-0.54)};
\addplot[bl] coordinates {(0,-0.54) (0.49,0.16) (1.04,1.31) (1.52,2.52) (1.94,3.77) (2.39,5.16) (2.75,6.47)};
\addplot[bl] coordinates {(2.68,6.09) (2.60,3.85) (2.37,0.6) (2.15,-1.8) (1.89,-3.98) (1.39,-7.73) (0.94,-9.95) (0.73,-10.28) (0.42,-9.6) (0.17,-6.85) (0.04,-3.45) (0,-0.68)};
\addplot[bl] coordinates {(0,-0.68) (0.48,0.03) (1.02,1.13) (1.49,2.29) (1.90,3.49) (2.34,4.83) (2.68,6.09)};
\addplot[bl] coordinates {(2.61,5.71) (2.54,3.63) (2.33,0.5) (2.12,-1.8) (1.87,-3.96) (1.38,-7.54) (0.93,-9.58) (0.71,-9.86) (0.42,-9.2) (0.16,-6.63) (0.04,-3.43) (0,-0.81)};
\addplot[bl] coordinates {(0,-0.81) (0.46,-0.11) (0.99,0.94) (1.46,2.06) (1.86,3.21) (2.28,4.49) (2.61,5.71)};
\addplot[bl] coordinates {(2.54,5.33) (2.48,3.4) (2.29,0.4) (2.09,-1.8) (1.85,-3.95) (1.36,-7.35) (0.93,-9.2) (0.70,-9.45) (0.42,-8.8) (0.16,-6.4) (0.04,-3.4) (0,-0.95)};
\addplot[bl] coordinates {(0,-0.95) (0.45,-0.25) (0.96,0.75) (1.43,1.83) (1.82,2.93) (2.23,4.15) (2.54,5.33)};
\addplot[bl] coordinates {(2.47,4.94) (2.42,3.18) (2.24,0.3) (2.06,-1.8) (1.82,-3.94) (1.35,-7.16) (0.92,-8.83) (0.69,-9.04) (0.41,-8.4) (0.16,-6.18) (0.04,-3.38) (0,-1.09)};
\addplot[bl] coordinates {(0,-1.09) (0.44,-0.39) (0.93,0.56) (1.39,1.59) (1.77,2.64) (2.17,3.81) (2.47,4.94)};
\addplot[bl] coordinates {(2.40,4.56) (2.36,2.95) (2.20,0.2) (2.04,-1.8) (1.80,-3.93) (1.33,-6.98) (0.91,-8.45) (0.68,-8.63) (0.41,-8.0) (0.16,-5.95) (0.04,-3.35) (0,-1.23)};
\addplot[bl] coordinates {(0,-1.23) (0.43,-0.53) (0.91,0.38) (1.36,1.36) (1.73,2.36) (2.11,3.48) (2.40,4.56)};
\addplot[bl] coordinates {(2.33,4.18) (2.30,2.73) (2.16,0.1) (2.01,-1.8) (1.77,-3.91) (1.32,-6.79) (0.91,-8.08) (0.66,-8.21) (0.40,-7.6) (0.15,-5.73) (0.04,-3.33) (0,-1.36)};
\addplot[bl] coordinates {(0,-1.36) (0.41,-0.66) (0.88,0.19) (1.33,1.13) (1.69,2.08) (2.06,3.14) (2.33,4.18)};
\addplot[bl] coordinates {(2.26,3.8) (2.24,2.5) (2.12,0.0) (1.98,-1.8) (1.75,-3.9) (1.30,-6.6) (0.90,-7.7) (0.65,-7.8) (0.40,-7.2) (0.15,-5.5) (0.04,-3.3) (0,-1.5)};
\addplot[bl] coordinates {(0,-1.5) (0.40,-0.8) (0.85,0.0) (1.30,0.9) (1.65,1.8) (2.00,2.8) (2.26,3.8)};
% ---- magenta ----
\addplot[mg] coordinates {(5.46,26.7) (5.30,22.5) (5.05,16.5) (4.75,10.0) (4.40,3.0) (4.02,-4.0) (3.62,-11.0) (3.20,-17.5) (2.75,-23.3) (2.25,-28.3) (1.70,-32.2) (1.09,-34.3) (0.55,-33.6) (0.20,-31.2) (0.05,-27.5) (0.02,-24.0) (0.02,-20.5) (0.05,-17.3) (0.16,-14.6) (0.45,-11.9) (0.95,-8.8) (1.88,-2.0) (2.83,5.0) (3.75,12.0) (4.55,18.3) (5.10,23.0) (5.46,26.7)};
\addplot[mg] coordinates {(5.40,26.11) (5.24,22.13) (5.00,16.25) (4.70,9.88) (4.36,3.0) (3.98,-3.88) (3.58,-10.81) (3.17,-17.23) (2.72,-22.91) (2.22,-27.79) (1.67,-31.53) (1.07,-33.49) (0.54,-32.78) (0.20,-30.46) (0.05,-27.0) (0.02,-23.79) (0.03,-20.56) (0.07,-17.59) (0.19,-14.95) (0.48,-12.21) (0.95,-9.1) (1.88,-2.36) (2.83,4.63) (3.75,11.63) (4.53,17.89) (5.06,22.56) (5.40,26.11)};
\addplot[mg] coordinates {(5.33,25.53) (5.19,21.75) (4.94,16.0) (4.65,9.75) (4.31,3.0) (3.94,-3.75) (3.54,-10.63) (3.13,-16.95) (2.69,-22.53) (2.19,-27.28) (1.65,-30.85) (1.06,-32.68) (0.54,-31.95) (0.20,-29.73) (0.05,-26.5) (0.02,-23.58) (0.03,-20.63) (0.08,-17.88) (0.23,-15.3) (0.51,-12.53) (0.96,-9.4) (1.88,-2.73) (2.83,4.25) (3.75,11.25) (4.51,17.48) (5.01,22.13) (5.33,25.53)};
\addplot[mg] coordinates {(5.27,24.94) (5.13,21.38) (4.89,15.75) (4.60,9.63) (4.27,3.0) (3.90,-3.63) (3.50,-10.44) (3.10,-16.68) (2.66,-22.14) (2.16,-26.76) (1.62,-30.18) (1.04,-31.86) (0.53,-31.13) (0.20,-28.99) (0.05,-26.0) (0.02,-23.36) (0.04,-20.69) (0.10,-18.16) (0.26,-15.65) (0.54,-12.84) (0.96,-9.7) (1.88,-3.09) (2.83,3.88) (3.75,10.88) (4.49,17.06) (4.97,21.69) (5.27,24.94)};
\addplot[mg] coordinates {(5.21,24.35) (5.07,21.0) (4.84,15.5) (4.56,9.5) (4.23,3.0) (3.86,-3.5) (3.46,-10.25) (3.06,-16.4) (2.63,-21.75) (2.13,-26.25) (1.59,-29.5) (1.02,-31.05) (0.53,-30.3) (0.20,-28.25) (0.06,-25.5) (0.03,-23.15) (0.04,-20.75) (0.12,-18.45) (0.29,-16.0) (0.58,-13.15) (0.96,-10.0) (1.88,-3.45) (2.83,3.5) (3.75,10.5) (4.48,16.65) (4.93,21.25) (5.21,24.35)};
\addplot[mg] coordinates {(5.14,23.76) (5.01,20.63) (4.78,15.25) (4.51,9.38) (4.18,3.0) (3.82,-3.38) (3.42,-10.06) (3.03,-16.13) (2.59,-21.36) (2.09,-25.74) (1.56,-28.83) (1.00,-30.24) (0.52,-29.48) (0.20,-27.51) (0.06,-25.0) (0.03,-22.94) (0.05,-20.81) (0.13,-18.74) (0.32,-16.35) (0.61,-13.46) (0.96,-10.3) (1.88,-3.81) (2.83,3.13) (3.75,10.13) (4.46,16.24) (4.88,20.81) (5.14,23.76)};
\addplot[mg] coordinates {(5.08,23.18) (4.96,20.25) (4.73,15.0) (4.46,9.25) (4.14,3.0) (3.78,-3.25) (3.38,-9.88) (2.99,-15.85) (2.56,-20.98) (2.06,-25.23) (1.54,-28.15) (0.99,-29.43) (0.51,-28.65) (0.20,-26.78) (0.06,-24.5) (0.03,-22.73) (0.05,-20.88) (0.15,-19.03) (0.36,-16.7) (0.64,-13.78) (0.97,-10.6) (1.88,-4.18) (2.83,2.75) (3.75,9.75) (4.44,15.83) (4.84,20.38) (5.08,23.18)};
\addplot[mg] coordinates {(5.01,22.59) (4.90,19.88) (4.67,14.75) (4.41,9.13) (4.09,3.0) (3.74,-3.13) (3.34,-9.69) (2.96,-15.58) (2.53,-20.59) (2.03,-24.71) (1.51,-27.48) (0.97,-28.61) (0.51,-27.83) (0.20,-26.04) (0.06,-24.0) (0.03,-22.51) (0.06,-20.94) (0.16,-19.31) (0.39,-17.05) (0.67,-14.09) (0.97,-10.9) (1.88,-4.54) (2.83,2.38) (3.75,9.38) (4.42,15.41) (4.79,19.94) (5.01,22.59)};
\addplot[mg] coordinates {(4.95,22.0) (4.84,19.5) (4.62,14.5) (4.36,9.0) (4.05,3.0) (3.70,-3.0) (3.30,-9.5) (2.92,-15.3) (2.50,-20.2) (2.00,-24.2) (1.48,-26.8) (0.95,-27.8) (0.50,-27.0) (0.20,-25.3) (0.06,-23.5) (0.03,-22.3) (0.06,-21.0) (0.18,-19.6) (0.42,-17.4) (0.70,-14.4) (0.97,-11.2) (1.88,-4.9) (2.83,2.0) (3.75,9.0) (4.40,15.0) (4.75,19.5) (4.95,22.0)};
\node[anchor=south east, inner sep=0pt, xshift=-5pt, yshift=1.5pt] at (rel axis cs:1,0) {\scalebox{0.9}[1]{\labfont\bfseries\fontsize{33.5}{33.5}\selectfont (b)}};
\end{axis}
\end{tikzpicture}
\end{document}
